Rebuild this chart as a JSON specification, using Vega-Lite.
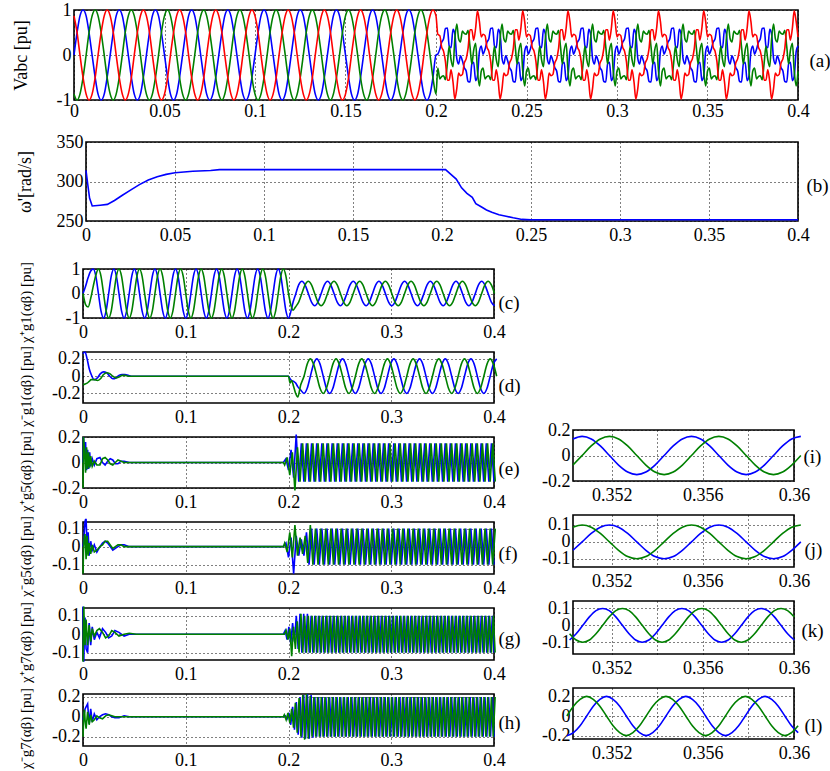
{
"$schema":"https://vega.github.io/schema/vega-lite/v6.json",
"padding":{"left":11,"top":0,"right":40,"bottom":10},
"config":{
"font":"Liberation Serif, serif",
"view":{"stroke":"black","strokeWidth":1.6},
"axis":{"labelFont":"Liberation Serif, serif","labelFontSize":18,"labelColor":"black","titleFont":"Liberation Serif, serif","titleFontSize":18,"titleFontWeight":"normal","titleColor":"black","domain":false,"ticks":false,"tickSize":0,"grid":true,"gridColor":"black","gridDash":[1,3],"gridOpacity":1,"gridWidth":1,"labelFlush":false,"labelOverlap":false,"labelBound":false},
"axisX":{"labelPadding":5,"labelDx":6},
"axisY":{"labelPadding":3},
"line":{"strokeWidth":1.6,"clip":true,"invalid":"filter"}
},
"datasets":{
"a":[
{"t":0,"b":0,"g":-0.87,"r":0.87},{"t":0.0017,"b":0.5,"g":-1,"r":0.5},{"t":0.0033,"b":0.87,"g":-0.87,"r":0},{"t":0.005,"b":1,"g":-0.5,"r":-0.5},{"t":0.0067,"b":0.87,"g":0,"r":-0.87},{"t":0.0083,"b":0.5,"g":0.5,"r":-1},{"t":0.01,"b":0,"g":0.87,"r":-0.87},{"t":0.0117,"b":-0.5,"g":1,"r":-0.5},{"t":0.0133,"b":-0.87,"g":0.87,"r":0},{"t":0.015,"b":-1,"g":0.5,"r":0.5},{"t":0.0167,"b":-0.87,"g":0,"r":0.87},{"t":0.0183,"b":-0.5,"g":-0.5,"r":1},
{"t":0.02,"b":0,"g":-0.87,"r":0.87},{"t":0.0217,"b":0.5,"g":-1,"r":0.5},{"t":0.0233,"b":0.87,"g":-0.87,"r":0},{"t":0.025,"b":1,"g":-0.5,"r":-0.5},{"t":0.0267,"b":0.87,"g":0,"r":-0.87},{"t":0.0283,"b":0.5,"g":0.5,"r":-1},{"t":0.03,"b":0,"g":0.87,"r":-0.87},{"t":0.0317,"b":-0.5,"g":1,"r":-0.5},{"t":0.0333,"b":-0.87,"g":0.87,"r":0},{"t":0.035,"b":-1,"g":0.5,"r":0.5},{"t":0.0367,"b":-0.87,"g":0,"r":0.87},{"t":0.0383,"b":-0.5,"g":-0.5,"r":1},
{"t":0.04,"b":0,"g":-0.87,"r":0.87},{"t":0.0417,"b":0.5,"g":-1,"r":0.5},{"t":0.0433,"b":0.87,"g":-0.87,"r":0},{"t":0.045,"b":1,"g":-0.5,"r":-0.5},{"t":0.0467,"b":0.87,"g":0,"r":-0.87},{"t":0.0483,"b":0.5,"g":0.5,"r":-1},{"t":0.05,"b":0,"g":0.87,"r":-0.87},{"t":0.0517,"b":-0.5,"g":1,"r":-0.5},{"t":0.0533,"b":-0.87,"g":0.87,"r":0},{"t":0.055,"b":-1,"g":0.5,"r":0.5},{"t":0.0567,"b":-0.87,"g":0,"r":0.87},{"t":0.0583,"b":-0.5,"g":-0.5,"r":1},
{"t":0.06,"b":0,"g":-0.87,"r":0.87},{"t":0.0617,"b":0.5,"g":-1,"r":0.5},{"t":0.0633,"b":0.87,"g":-0.87,"r":0},{"t":0.065,"b":1,"g":-0.5,"r":-0.5},{"t":0.0667,"b":0.87,"g":0,"r":-0.87},{"t":0.0683,"b":0.5,"g":0.5,"r":-1},{"t":0.07,"b":0,"g":0.87,"r":-0.87},{"t":0.0717,"b":-0.5,"g":1,"r":-0.5},{"t":0.0733,"b":-0.87,"g":0.87,"r":0},{"t":0.075,"b":-1,"g":0.5,"r":0.5},{"t":0.0767,"b":-0.87,"g":0,"r":0.87},{"t":0.0783,"b":-0.5,"g":-0.5,"r":1},
{"t":0.08,"b":0,"g":-0.87,"r":0.87},{"t":0.0817,"b":0.5,"g":-1,"r":0.5},{"t":0.0833,"b":0.87,"g":-0.87,"r":0},{"t":0.085,"b":1,"g":-0.5,"r":-0.5},{"t":0.0867,"b":0.87,"g":0,"r":-0.87},{"t":0.0883,"b":0.5,"g":0.5,"r":-1},{"t":0.09,"b":0,"g":0.87,"r":-0.87},{"t":0.0917,"b":-0.5,"g":1,"r":-0.5},{"t":0.0933,"b":-0.87,"g":0.87,"r":0},{"t":0.095,"b":-1,"g":0.5,"r":0.5},{"t":0.0967,"b":-0.87,"g":0,"r":0.87},{"t":0.0983,"b":-0.5,"g":-0.5,"r":1},
{"t":0.1,"b":0,"g":-0.87,"r":0.87},{"t":0.1017,"b":0.5,"g":-1,"r":0.5},{"t":0.1033,"b":0.87,"g":-0.87,"r":0},{"t":0.105,"b":1,"g":-0.5,"r":-0.5},{"t":0.1067,"b":0.87,"g":0,"r":-0.87},{"t":0.1083,"b":0.5,"g":0.5,"r":-1},{"t":0.11,"b":0,"g":0.87,"r":-0.87},{"t":0.1117,"b":-0.5,"g":1,"r":-0.5},{"t":0.1133,"b":-0.87,"g":0.87,"r":0},{"t":0.115,"b":-1,"g":0.5,"r":0.5},{"t":0.1167,"b":-0.87,"g":0,"r":0.87},{"t":0.1183,"b":-0.5,"g":-0.5,"r":1},
{"t":0.12,"b":0,"g":-0.87,"r":0.87},{"t":0.1217,"b":0.5,"g":-1,"r":0.5},{"t":0.1233,"b":0.87,"g":-0.87,"r":0},{"t":0.125,"b":1,"g":-0.5,"r":-0.5},{"t":0.1267,"b":0.87,"g":0,"r":-0.87},{"t":0.1283,"b":0.5,"g":0.5,"r":-1},{"t":0.13,"b":0,"g":0.87,"r":-0.87},{"t":0.1317,"b":-0.5,"g":1,"r":-0.5},{"t":0.1333,"b":-0.87,"g":0.87,"r":0},{"t":0.135,"b":-1,"g":0.5,"r":0.5},{"t":0.1367,"b":-0.87,"g":0,"r":0.87},{"t":0.1383,"b":-0.5,"g":-0.5,"r":1},
{"t":0.14,"b":0,"g":-0.87,"r":0.87},{"t":0.1417,"b":0.5,"g":-1,"r":0.5},{"t":0.1433,"b":0.87,"g":-0.87,"r":0},{"t":0.145,"b":1,"g":-0.5,"r":-0.5},{"t":0.1467,"b":0.87,"g":0,"r":-0.87},{"t":0.1483,"b":0.5,"g":0.5,"r":-1},{"t":0.15,"b":0,"g":0.87,"r":-0.87},{"t":0.1517,"b":-0.5,"g":1,"r":-0.5},{"t":0.1533,"b":-0.87,"g":0.87,"r":0},{"t":0.155,"b":-1,"g":0.5,"r":0.5},{"t":0.1567,"b":-0.87,"g":0,"r":0.87},{"t":0.1583,"b":-0.5,"g":-0.5,"r":1},
{"t":0.16,"b":0,"g":-0.87,"r":0.87},{"t":0.1617,"b":0.5,"g":-1,"r":0.5},{"t":0.1633,"b":0.87,"g":-0.87,"r":0},{"t":0.165,"b":1,"g":-0.5,"r":-0.5},{"t":0.1667,"b":0.87,"g":0,"r":-0.87},{"t":0.1683,"b":0.5,"g":0.5,"r":-1},{"t":0.17,"b":0,"g":0.87,"r":-0.87},{"t":0.1717,"b":-0.5,"g":1,"r":-0.5},{"t":0.1733,"b":-0.87,"g":0.87,"r":0},{"t":0.175,"b":-1,"g":0.5,"r":0.5},{"t":0.1767,"b":-0.87,"g":0,"r":0.87},{"t":0.1783,"b":-0.5,"g":-0.5,"r":1},
{"t":0.18,"b":0,"g":-0.87,"r":0.87},{"t":0.1817,"b":0.5,"g":-1,"r":0.5},{"t":0.1833,"b":0.87,"g":-0.87,"r":0},{"t":0.185,"b":1,"g":-0.5,"r":-0.5},{"t":0.1867,"b":0.87,"g":0,"r":-0.87},{"t":0.1883,"b":0.5,"g":0.5,"r":-1},{"t":0.19,"b":0,"g":0.87,"r":-0.87},{"t":0.1917,"b":-0.5,"g":1,"r":-0.5},{"t":0.1933,"b":-0.87,"g":0.87,"r":0},{"t":0.195,"b":-1,"g":0.5,"r":0.5},{"t":0.1967,"b":-0.87,"g":0,"r":0.87},{"t":0.1983,"b":-0.5,"g":-0.5,"r":1},
{"t":0.2,"b":0,"g":-0.87,"r":0.87},
{"t":0.201,"b":0.02,"g":-0.29,"r":0.46},{"t":0.2021,"b":0.13,"g":-0.53,"r":0.43},{"t":0.2031,"b":0.28,"g":-0.48,"r":0.18},{"t":0.2042,"b":0.36,"g":-0.46,"r":0.08},{"t":0.2052,"b":0.59,"g":-0.55,"r":-0.14},{"t":0.2063,"b":0.6,"g":-0.18,"r":-0.56},{"t":0.2073,"b":0.2,"g":0.2,"r":-0.56},{"t":0.2083,"b":0.16,"g":-0.1,"r":-0.33},{"t":0.2094,"b":0.57,"g":-0.26,"r":-0.6},{"t":0.2104,"b":0.47,"g":0.35,"r":-0.98},{"t":0.2115,"b":-0.08,"g":0.69,"r":-0.74},{"t":0.2125,"b":-0.2,"g":0.36,"r":-0.4},{"t":0.2135,"b":-0.02,"g":0.29,"r":-0.46},{"t":0.2146,"b":-0.13,"g":0.53,"r":-0.43},{"t":0.2156,"b":-0.28,"g":0.48,"r":-0.18},{"t":0.2167,"b":-0.36,"g":0.46,"r":-0.08},{"t":0.2177,"b":-0.59,"g":0.55,"r":0.14},{"t":0.2188,"b":-0.6,"g":0.18,"r":0.56},{"t":0.2198,"b":-0.2,"g":-0.2,"r":0.56},{"t":0.2208,"b":-0.16,"g":0.1,"r":0.33},{"t":0.2219,"b":-0.57,"g":0.26,"r":0.6},{"t":0.2229,"b":-0.47,"g":-0.35,"r":0.98},{"t":0.224,"b":0.08,"g":-0.69,"r":0.74},
{"t":0.225,"b":0.2,"g":-0.36,"r":0.4},{"t":0.226,"b":0.02,"g":-0.29,"r":0.46},{"t":0.2271,"b":0.13,"g":-0.53,"r":0.43},{"t":0.2281,"b":0.28,"g":-0.48,"r":0.18},{"t":0.2292,"b":0.36,"g":-0.46,"r":0.08},{"t":0.2302,"b":0.59,"g":-0.55,"r":-0.14},{"t":0.2313,"b":0.6,"g":-0.18,"r":-0.56},{"t":0.2323,"b":0.2,"g":0.2,"r":-0.56},{"t":0.2333,"b":0.16,"g":-0.1,"r":-0.33},{"t":0.2344,"b":0.57,"g":-0.26,"r":-0.6},{"t":0.2354,"b":0.47,"g":0.35,"r":-0.98},{"t":0.2365,"b":-0.08,"g":0.69,"r":-0.74},{"t":0.2375,"b":-0.2,"g":0.36,"r":-0.4},{"t":0.2385,"b":-0.02,"g":0.29,"r":-0.46},{"t":0.2396,"b":-0.13,"g":0.53,"r":-0.43},{"t":0.2406,"b":-0.28,"g":0.48,"r":-0.18},{"t":0.2417,"b":-0.36,"g":0.46,"r":-0.08},{"t":0.2427,"b":-0.59,"g":0.55,"r":0.14},{"t":0.2438,"b":-0.6,"g":0.18,"r":0.56},{"t":0.2448,"b":-0.2,"g":-0.2,"r":0.56},{"t":0.2458,"b":-0.16,"g":0.1,"r":0.33},{"t":0.2469,"b":-0.57,"g":0.26,"r":0.6},{"t":0.2479,"b":-0.47,"g":-0.35,"r":0.98},{"t":0.249,"b":0.08,"g":-0.69,"r":0.74},
{"t":0.25,"b":0.2,"g":-0.36,"r":0.4},{"t":0.251,"b":0.02,"g":-0.29,"r":0.46},{"t":0.2521,"b":0.13,"g":-0.53,"r":0.43},{"t":0.2531,"b":0.28,"g":-0.48,"r":0.18},{"t":0.2542,"b":0.36,"g":-0.46,"r":0.08},{"t":0.2552,"b":0.59,"g":-0.55,"r":-0.14},{"t":0.2563,"b":0.6,"g":-0.18,"r":-0.56},{"t":0.2573,"b":0.2,"g":0.2,"r":-0.56},{"t":0.2583,"b":0.16,"g":-0.1,"r":-0.33},{"t":0.2594,"b":0.57,"g":-0.26,"r":-0.6},{"t":0.2604,"b":0.47,"g":0.35,"r":-0.98},{"t":0.2615,"b":-0.08,"g":0.69,"r":-0.74},{"t":0.2625,"b":-0.2,"g":0.36,"r":-0.4},{"t":0.2635,"b":-0.02,"g":0.29,"r":-0.46},{"t":0.2646,"b":-0.13,"g":0.53,"r":-0.43},{"t":0.2656,"b":-0.28,"g":0.48,"r":-0.18},{"t":0.2667,"b":-0.36,"g":0.46,"r":-0.08},{"t":0.2677,"b":-0.59,"g":0.55,"r":0.14},{"t":0.2688,"b":-0.6,"g":0.18,"r":0.56},{"t":0.2698,"b":-0.2,"g":-0.2,"r":0.56},{"t":0.2708,"b":-0.16,"g":0.1,"r":0.33},{"t":0.2719,"b":-0.57,"g":0.26,"r":0.6},{"t":0.2729,"b":-0.47,"g":-0.35,"r":0.98},{"t":0.274,"b":0.08,"g":-0.69,"r":0.74},
{"t":0.275,"b":0.2,"g":-0.36,"r":0.4},{"t":0.276,"b":0.02,"g":-0.29,"r":0.46},{"t":0.2771,"b":0.13,"g":-0.53,"r":0.43},{"t":0.2781,"b":0.28,"g":-0.48,"r":0.18},{"t":0.2792,"b":0.36,"g":-0.46,"r":0.08},{"t":0.2802,"b":0.59,"g":-0.55,"r":-0.14},{"t":0.2813,"b":0.6,"g":-0.18,"r":-0.56},{"t":0.2823,"b":0.2,"g":0.2,"r":-0.56},{"t":0.2833,"b":0.16,"g":-0.1,"r":-0.33},{"t":0.2844,"b":0.57,"g":-0.26,"r":-0.6},{"t":0.2854,"b":0.47,"g":0.35,"r":-0.98},{"t":0.2865,"b":-0.08,"g":0.69,"r":-0.74},{"t":0.2875,"b":-0.2,"g":0.36,"r":-0.4},{"t":0.2885,"b":-0.02,"g":0.29,"r":-0.46},{"t":0.2896,"b":-0.13,"g":0.53,"r":-0.43},{"t":0.2906,"b":-0.28,"g":0.48,"r":-0.18},{"t":0.2917,"b":-0.36,"g":0.46,"r":-0.08},{"t":0.2927,"b":-0.59,"g":0.55,"r":0.14},{"t":0.2938,"b":-0.6,"g":0.18,"r":0.56},{"t":0.2948,"b":-0.2,"g":-0.2,"r":0.56},{"t":0.2958,"b":-0.16,"g":0.1,"r":0.33},{"t":0.2969,"b":-0.57,"g":0.26,"r":0.6},{"t":0.2979,"b":-0.47,"g":-0.35,"r":0.98},{"t":0.299,"b":0.08,"g":-0.69,"r":0.74},
{"t":0.3,"b":0.2,"g":-0.36,"r":0.4},{"t":0.301,"b":0.02,"g":-0.29,"r":0.46},{"t":0.3021,"b":0.13,"g":-0.53,"r":0.43},{"t":0.3031,"b":0.28,"g":-0.48,"r":0.18},{"t":0.3042,"b":0.36,"g":-0.46,"r":0.08},{"t":0.3052,"b":0.59,"g":-0.55,"r":-0.14},{"t":0.3063,"b":0.6,"g":-0.18,"r":-0.56},{"t":0.3073,"b":0.2,"g":0.2,"r":-0.56},{"t":0.3083,"b":0.16,"g":-0.1,"r":-0.33},{"t":0.3094,"b":0.57,"g":-0.26,"r":-0.6},{"t":0.3104,"b":0.47,"g":0.35,"r":-0.98},{"t":0.3115,"b":-0.08,"g":0.69,"r":-0.74},{"t":0.3125,"b":-0.2,"g":0.36,"r":-0.4},{"t":0.3135,"b":-0.02,"g":0.29,"r":-0.46},{"t":0.3146,"b":-0.13,"g":0.53,"r":-0.43},{"t":0.3156,"b":-0.28,"g":0.48,"r":-0.18},{"t":0.3167,"b":-0.36,"g":0.46,"r":-0.08},{"t":0.3177,"b":-0.59,"g":0.55,"r":0.14},{"t":0.3188,"b":-0.6,"g":0.18,"r":0.56},{"t":0.3198,"b":-0.2,"g":-0.2,"r":0.56},{"t":0.3208,"b":-0.16,"g":0.1,"r":0.33},{"t":0.3219,"b":-0.57,"g":0.26,"r":0.6},{"t":0.3229,"b":-0.47,"g":-0.35,"r":0.98},{"t":0.324,"b":0.08,"g":-0.69,"r":0.74},
{"t":0.325,"b":0.2,"g":-0.36,"r":0.4},{"t":0.326,"b":0.02,"g":-0.29,"r":0.46},{"t":0.3271,"b":0.13,"g":-0.53,"r":0.43},{"t":0.3281,"b":0.28,"g":-0.48,"r":0.18},{"t":0.3292,"b":0.36,"g":-0.46,"r":0.08},{"t":0.3302,"b":0.59,"g":-0.55,"r":-0.14},{"t":0.3313,"b":0.6,"g":-0.18,"r":-0.56},{"t":0.3323,"b":0.2,"g":0.2,"r":-0.56},{"t":0.3333,"b":0.16,"g":-0.1,"r":-0.33},{"t":0.3344,"b":0.57,"g":-0.26,"r":-0.6},{"t":0.3354,"b":0.47,"g":0.35,"r":-0.98},{"t":0.3365,"b":-0.08,"g":0.69,"r":-0.74},{"t":0.3375,"b":-0.2,"g":0.36,"r":-0.4},{"t":0.3385,"b":-0.02,"g":0.29,"r":-0.46},{"t":0.3396,"b":-0.13,"g":0.53,"r":-0.43},{"t":0.3406,"b":-0.28,"g":0.48,"r":-0.18},{"t":0.3417,"b":-0.36,"g":0.46,"r":-0.08},{"t":0.3427,"b":-0.59,"g":0.55,"r":0.14},{"t":0.3438,"b":-0.6,"g":0.18,"r":0.56},{"t":0.3448,"b":-0.2,"g":-0.2,"r":0.56},{"t":0.3458,"b":-0.16,"g":0.1,"r":0.33},{"t":0.3469,"b":-0.57,"g":0.26,"r":0.6},{"t":0.3479,"b":-0.47,"g":-0.35,"r":0.98},{"t":0.349,"b":0.08,"g":-0.69,"r":0.74},
{"t":0.35,"b":0.2,"g":-0.36,"r":0.4},{"t":0.351,"b":0.02,"g":-0.29,"r":0.46},{"t":0.3521,"b":0.13,"g":-0.53,"r":0.43},{"t":0.3531,"b":0.28,"g":-0.48,"r":0.18},{"t":0.3542,"b":0.36,"g":-0.46,"r":0.08},{"t":0.3552,"b":0.59,"g":-0.55,"r":-0.14},{"t":0.3563,"b":0.6,"g":-0.18,"r":-0.56},{"t":0.3573,"b":0.2,"g":0.2,"r":-0.56},{"t":0.3583,"b":0.16,"g":-0.1,"r":-0.33},{"t":0.3594,"b":0.57,"g":-0.26,"r":-0.6},{"t":0.3604,"b":0.47,"g":0.35,"r":-0.98},{"t":0.3615,"b":-0.08,"g":0.69,"r":-0.74},{"t":0.3625,"b":-0.2,"g":0.36,"r":-0.4},{"t":0.3635,"b":-0.02,"g":0.29,"r":-0.46},{"t":0.3646,"b":-0.13,"g":0.53,"r":-0.43},{"t":0.3656,"b":-0.28,"g":0.48,"r":-0.18},{"t":0.3667,"b":-0.36,"g":0.46,"r":-0.08},{"t":0.3677,"b":-0.59,"g":0.55,"r":0.14},{"t":0.3688,"b":-0.6,"g":0.18,"r":0.56},{"t":0.3698,"b":-0.2,"g":-0.2,"r":0.56},{"t":0.3708,"b":-0.16,"g":0.1,"r":0.33},{"t":0.3719,"b":-0.57,"g":0.26,"r":0.6},{"t":0.3729,"b":-0.47,"g":-0.35,"r":0.98},{"t":0.374,"b":0.08,"g":-0.69,"r":0.74},
{"t":0.375,"b":0.2,"g":-0.36,"r":0.4},{"t":0.376,"b":0.02,"g":-0.29,"r":0.46},{"t":0.3771,"b":0.13,"g":-0.53,"r":0.43},{"t":0.3781,"b":0.28,"g":-0.48,"r":0.18},{"t":0.3792,"b":0.36,"g":-0.46,"r":0.08},{"t":0.3802,"b":0.59,"g":-0.55,"r":-0.14},{"t":0.3813,"b":0.6,"g":-0.18,"r":-0.56},{"t":0.3823,"b":0.2,"g":0.2,"r":-0.56},{"t":0.3833,"b":0.16,"g":-0.1,"r":-0.33},{"t":0.3844,"b":0.57,"g":-0.26,"r":-0.6},{"t":0.3854,"b":0.47,"g":0.35,"r":-0.98},{"t":0.3865,"b":-0.08,"g":0.69,"r":-0.74},{"t":0.3875,"b":-0.2,"g":0.36,"r":-0.4},{"t":0.3885,"b":-0.02,"g":0.29,"r":-0.46},{"t":0.3896,"b":-0.13,"g":0.53,"r":-0.43},{"t":0.3906,"b":-0.28,"g":0.48,"r":-0.18},{"t":0.3917,"b":-0.36,"g":0.46,"r":-0.08},{"t":0.3927,"b":-0.59,"g":0.55,"r":0.14},{"t":0.3938,"b":-0.6,"g":0.18,"r":0.56},{"t":0.3948,"b":-0.2,"g":-0.2,"r":0.56},{"t":0.3958,"b":-0.16,"g":0.1,"r":0.33},{"t":0.3969,"b":-0.57,"g":0.26,"r":0.6},{"t":0.3979,"b":-0.47,"g":-0.35,"r":0.98},{"t":0.399,"b":0.08,"g":-0.69,"r":0.74},
{"t":0.4,"b":0.2,"g":-0.36,"r":0.4}
],
"w":[
{"t":0,"w":314},{"t":0.001,"w":296},{"t":0.002,"w":279},{"t":0.0035,"w":269},{"t":0.008,"w":270},{"t":0.012,"w":271},{"t":0.016,"w":276},{"t":0.02,"w":282},{"t":0.025,"w":289},{"t":0.03,"w":296},{"t":0.035,"w":302},{"t":0.04,"w":306},{"t":0.045,"w":309},{"t":0.05,"w":311},{"t":0.06,"w":313},{"t":0.07,"w":314},{"t":0.075,"w":315},{"t":0.2,"w":315},{"t":0.202,"w":315},{"t":0.205,"w":309},{"t":0.208,"w":303},{"t":0.211,"w":292},{"t":0.214,"w":285},{"t":0.217,"w":280},{"t":0.219,"w":272},{"t":0.222,"w":268},{"t":0.225,"w":264},{"t":0.228,"w":261},{"t":0.232,"w":258},{"t":0.236,"w":256},{"t":0.24,"w":254},{"t":0.245,"w":252},{"t":0.25,"w":251.5},{"t":0.4,"w":251.5}
],
"c":[
{"t":0,"b":0,"g":0},{"t":0.0025,"b":0.3,"g":-0.45},{"t":0.005,"b":0.65,"g":-0.55},{"t":0.0075,"b":0.92,"g":-0.2},{"t":0.01,"b":1,"g":0.3},{"t":0.0125,"b":0.71,"g":0.75},{"t":0.015,"b":0,"g":1},{"t":0.0175,"b":-0.71,"g":0.71},
{"t":0.02,"b":-1,"g":0},{"t":0.0225,"b":-0.71,"g":-0.71},{"t":0.025,"b":0,"g":-1},{"t":0.0275,"b":0.71,"g":-0.71},{"t":0.03,"b":1,"g":0},{"t":0.0325,"b":0.71,"g":0.71},{"t":0.035,"b":0,"g":1},{"t":0.0375,"b":-0.71,"g":0.71},
{"t":0.04,"b":-1,"g":0},{"t":0.0425,"b":-0.71,"g":-0.71},{"t":0.045,"b":0,"g":-1},{"t":0.0475,"b":0.71,"g":-0.71},{"t":0.05,"b":1,"g":0},{"t":0.0525,"b":0.71,"g":0.71},{"t":0.055,"b":0,"g":1},{"t":0.0575,"b":-0.71,"g":0.71},
{"t":0.06,"b":-1,"g":0},{"t":0.0625,"b":-0.71,"g":-0.71},{"t":0.065,"b":0,"g":-1},{"t":0.0675,"b":0.71,"g":-0.71},{"t":0.07,"b":1,"g":0},{"t":0.0725,"b":0.71,"g":0.71},{"t":0.075,"b":0,"g":1},{"t":0.0775,"b":-0.71,"g":0.71},
{"t":0.08,"b":-1,"g":0},{"t":0.0825,"b":-0.71,"g":-0.71},{"t":0.085,"b":0,"g":-1},{"t":0.0875,"b":0.71,"g":-0.71},{"t":0.09,"b":1,"g":0},{"t":0.0925,"b":0.71,"g":0.71},{"t":0.095,"b":0,"g":1},{"t":0.0975,"b":-0.71,"g":0.71},
{"t":0.1,"b":-1,"g":0},{"t":0.1025,"b":-0.71,"g":-0.71},{"t":0.105,"b":0,"g":-1},{"t":0.1075,"b":0.71,"g":-0.71},{"t":0.11,"b":1,"g":0},{"t":0.1125,"b":0.71,"g":0.71},{"t":0.115,"b":0,"g":1},{"t":0.1175,"b":-0.71,"g":0.71},
{"t":0.12,"b":-1,"g":0},{"t":0.1225,"b":-0.71,"g":-0.71},{"t":0.125,"b":0,"g":-1},{"t":0.1275,"b":0.71,"g":-0.71},{"t":0.13,"b":1,"g":0},{"t":0.1325,"b":0.71,"g":0.71},{"t":0.135,"b":0,"g":1},{"t":0.1375,"b":-0.71,"g":0.71},
{"t":0.14,"b":-1,"g":0},{"t":0.1425,"b":-0.71,"g":-0.71},{"t":0.145,"b":0,"g":-1},{"t":0.1475,"b":0.71,"g":-0.71},{"t":0.15,"b":1,"g":0},{"t":0.1525,"b":0.71,"g":0.71},{"t":0.155,"b":0,"g":1},{"t":0.1575,"b":-0.71,"g":0.71},
{"t":0.16,"b":-1,"g":0},{"t":0.1625,"b":-0.71,"g":-0.71},{"t":0.165,"b":0,"g":-1},{"t":0.1675,"b":0.71,"g":-0.71},{"t":0.17,"b":1,"g":0},{"t":0.1725,"b":0.71,"g":0.71},{"t":0.175,"b":0,"g":1},{"t":0.1775,"b":-0.71,"g":0.71},
{"t":0.18,"b":-1,"g":0},{"t":0.1825,"b":-0.71,"g":-0.71},{"t":0.185,"b":0,"g":-1},{"t":0.1875,"b":0.71,"g":-0.71},{"t":0.19,"b":1,"g":0},{"t":0.1925,"b":0.71,"g":0.71},{"t":0.195,"b":0,"g":1},{"t":0.1975,"b":-0.71,"g":0.71},
{"t":0.2,"b":-1,"g":0},{"t":0.2025,"b":-0.7,"g":-0.5},{"t":0.2045,"b":-0.35,"g":-0.68},{"t":0.2068,"b":-0.05,"g":-0.55},{"t":0.2099,"b":0.35,"g":-0.35},
{"t":0.213,"b":0.5,"g":0},{"t":0.2161,"b":0.35,"g":0.35},{"t":0.2193,"b":0,"g":0.5},{"t":0.2224,"b":-0.35,"g":0.35},{"t":0.2255,"b":-0.5,"g":0},{"t":0.2286,"b":-0.35,"g":-0.35},{"t":0.2318,"b":0,"g":-0.5},{"t":0.2349,"b":0.35,"g":-0.35},
{"t":0.238,"b":0.5,"g":0},{"t":0.2411,"b":0.35,"g":0.35},{"t":0.2443,"b":0,"g":0.5},{"t":0.2474,"b":-0.35,"g":0.35},{"t":0.2505,"b":-0.5,"g":0},{"t":0.2536,"b":-0.35,"g":-0.35},{"t":0.2568,"b":0,"g":-0.5},{"t":0.2599,"b":0.35,"g":-0.35},
{"t":0.263,"b":0.5,"g":0},{"t":0.2661,"b":0.35,"g":0.35},{"t":0.2693,"b":0,"g":0.5},{"t":0.2724,"b":-0.35,"g":0.35},{"t":0.2755,"b":-0.5,"g":0},{"t":0.2786,"b":-0.35,"g":-0.35},{"t":0.2818,"b":0,"g":-0.5},{"t":0.2849,"b":0.35,"g":-0.35},
{"t":0.288,"b":0.5,"g":0},{"t":0.2911,"b":0.35,"g":0.35},{"t":0.2943,"b":0,"g":0.5},{"t":0.2974,"b":-0.35,"g":0.35},{"t":0.3005,"b":-0.5,"g":0},{"t":0.3036,"b":-0.35,"g":-0.35},{"t":0.3068,"b":0,"g":-0.5},{"t":0.3099,"b":0.35,"g":-0.35},
{"t":0.313,"b":0.5,"g":0},{"t":0.3161,"b":0.35,"g":0.35},{"t":0.3193,"b":0,"g":0.5},{"t":0.3224,"b":-0.35,"g":0.35},{"t":0.3255,"b":-0.5,"g":0},{"t":0.3286,"b":-0.35,"g":-0.35},{"t":0.3318,"b":0,"g":-0.5},{"t":0.3349,"b":0.35,"g":-0.35},
{"t":0.338,"b":0.5,"g":0},{"t":0.3411,"b":0.35,"g":0.35},{"t":0.3443,"b":0,"g":0.5},{"t":0.3474,"b":-0.35,"g":0.35},{"t":0.3505,"b":-0.5,"g":0},{"t":0.3536,"b":-0.35,"g":-0.35},{"t":0.3568,"b":0,"g":-0.5},{"t":0.3599,"b":0.35,"g":-0.35},
{"t":0.363,"b":0.5,"g":0},{"t":0.3661,"b":0.35,"g":0.35},{"t":0.3693,"b":0,"g":0.5},{"t":0.3724,"b":-0.35,"g":0.35},{"t":0.3755,"b":-0.5,"g":0},{"t":0.3786,"b":-0.35,"g":-0.35},{"t":0.3818,"b":0,"g":-0.5},{"t":0.3849,"b":0.35,"g":-0.35},
{"t":0.388,"b":0.5,"g":0},{"t":0.3911,"b":0.35,"g":0.35},{"t":0.3943,"b":0,"g":0.5},{"t":0.3974,"b":-0.35,"g":0.35},{"t":0.4005,"b":-0.5,"g":0}
],
"d":[
{"t":0,"b":0.26,"g":-0.1},{"t":0.002,"b":0.28,"g":-0.09},{"t":0.004,"b":0.2,"g":-0.08},{"t":0.006,"b":0.09,"g":-0.06},{"t":0.008,"b":0.02,"g":-0.04},{"t":0.011,"b":-0.04,"g":-0.04},{"t":0.014,"b":-0.02,"g":-0.05},{"t":0.017,"b":0.03,"g":-0.03},{"t":0.02,"b":0.05,"g":0.02},{"t":0.023,"b":0.04,"g":0.04},{"t":0.026,"b":0,"g":0.03},{"t":0.029,"b":-0.03,"g":0},{"t":0.032,"b":-0.02,"g":-0.02},{"t":0.035,"b":0.01,"g":-0.01},{"t":0.038,"b":0.02,"g":0.01},{"t":0.041,"b":0.02,"g":0.01},{"t":0.044,"b":0.01,"g":0},{"t":0.047,"b":0,"g":0},{"t":0.2,"b":0,"g":0},
{"t":0.2015,"b":-0.03,"g":-0.08},{"t":0.203,"b":-0.05,"g":-0.05},{"t":0.205,"b":-0.06,"g":-0.12},{"t":0.207,"b":-0.08,"g":-0.2},{"t":0.209,"b":-0.12,"g":-0.24},{"t":0.2119,"b":-0.16,"g":-0.1},{"t":0.2151,"b":-0.2,"g":0},{"t":0.2182,"b":-0.14,"g":0.14},
{"t":0.2213,"b":0,"g":0.2},{"t":0.2244,"b":0.14,"g":0.14},{"t":0.2276,"b":0.2,"g":0},{"t":0.2307,"b":0.14,"g":-0.14},{"t":0.2338,"b":0,"g":-0.2},{"t":0.2369,"b":-0.14,"g":-0.14},{"t":0.2401,"b":-0.2,"g":0},{"t":0.2432,"b":-0.14,"g":0.14},
{"t":0.2463,"b":0,"g":0.2},{"t":0.2494,"b":0.14,"g":0.14},{"t":0.2526,"b":0.2,"g":0},{"t":0.2557,"b":0.14,"g":-0.14},{"t":0.2588,"b":0,"g":-0.2},{"t":0.2619,"b":-0.14,"g":-0.14},{"t":0.2651,"b":-0.2,"g":0},{"t":0.2682,"b":-0.14,"g":0.14},
{"t":0.2713,"b":0,"g":0.2},{"t":0.2744,"b":0.14,"g":0.14},{"t":0.2776,"b":0.2,"g":0},{"t":0.2807,"b":0.14,"g":-0.14},{"t":0.2838,"b":0,"g":-0.2},{"t":0.2869,"b":-0.14,"g":-0.14},{"t":0.2901,"b":-0.2,"g":0},{"t":0.2932,"b":-0.14,"g":0.14},
{"t":0.2963,"b":0,"g":0.2},{"t":0.2994,"b":0.14,"g":0.14},{"t":0.3026,"b":0.2,"g":0},{"t":0.3057,"b":0.14,"g":-0.14},{"t":0.3088,"b":0,"g":-0.2},{"t":0.3119,"b":-0.14,"g":-0.14},{"t":0.3151,"b":-0.2,"g":0},{"t":0.3182,"b":-0.14,"g":0.14},
{"t":0.3213,"b":0,"g":0.2},{"t":0.3244,"b":0.14,"g":0.14},{"t":0.3276,"b":0.2,"g":0},{"t":0.3307,"b":0.14,"g":-0.14},{"t":0.3338,"b":0,"g":-0.2},{"t":0.3369,"b":-0.14,"g":-0.14},{"t":0.3401,"b":-0.2,"g":0},{"t":0.3432,"b":-0.14,"g":0.14},
{"t":0.3463,"b":0,"g":0.2},{"t":0.3494,"b":0.14,"g":0.14},{"t":0.3526,"b":0.2,"g":0},{"t":0.3557,"b":0.14,"g":-0.14},{"t":0.3588,"b":0,"g":-0.2},{"t":0.3619,"b":-0.14,"g":-0.14},{"t":0.3651,"b":-0.2,"g":0},{"t":0.3682,"b":-0.14,"g":0.14},
{"t":0.3713,"b":0,"g":0.2},{"t":0.3744,"b":0.14,"g":0.14},{"t":0.3776,"b":0.2,"g":0},{"t":0.3807,"b":0.14,"g":-0.14},{"t":0.3838,"b":0,"g":-0.2},{"t":0.3869,"b":-0.14,"g":-0.14},{"t":0.3901,"b":-0.2,"g":0},{"t":0.3932,"b":-0.14,"g":0.14},
{"t":0.3963,"b":0,"g":0.2},{"t":0.3994,"b":0.14,"g":0.14},{"t":0.4026,"b":0.2,"g":0}
],
"ef":[
{"t":0,"eb":0,"eg":-0.2,"fb":0,"fg":-0.15},{"t":0.0005,"eb":0.2,"eg":0.2,"fb":0.02,"fg":-0.02},{"t":0.001,"eb":0.12,"eg":0.15,"fb":0.04,"fg":0.03},{"t":0.0015,"eb":0.05,"eg":0.1,"fb":0.1,"fg":0.06},{"t":0.002,"eb":0.1,"eg":0,"fb":0.14,"fg":0.07},{"t":0.0025,"eb":0.16,"eg":-0.08,"fb":0.15,"fg":0},{"t":0.003,"eb":0.05,"eg":0.02,"fb":0.15,"fg":-0.07},{"t":0.0035,"eb":-0.06,"eg":0.12,"fb":0.08,"fg":-0.02},{"t":0.004,"eb":0.02,"eg":0.03,"fb":0.02,"fg":0.06},{"t":0.0045,"eb":0.1,"eg":-0.05,"fb":0.05,"fg":0.01},{"t":0.005,"eb":0.03,"eg":0.02,"fb":0.08,"fg":-0.05},{"t":0.0055,"eb":-0.05,"eg":0.08,"fb":0.02,"fg":-0.02},{"t":0.006,"eb":0.01,"eg":0.02,"fb":-0.05,"fg":0.02},{"t":0.0065,"eb":0.08,"eg":-0.04,"fb":-0.01,"fg":0},{"t":0.0075,"eb":-0.03,"eg":0.05,"fb":0.03,"fg":-0.04},{"t":0.009,"eb":0.03,"eg":-0.03,"fb":-0.02,"fg":0.01},{"t":0.011,"eb":-0.02,"eg":0.01,"fb":0.01,"fg":-0.03},{"t":0.0135,"eb":0.03,"eg":-0.02,"fb":-0.03,"fg":-0.02},{"t":0.0165,"eb":0.04,"eg":-0.02,"fb":0,"fg":0},{"t":0.019,"eb":0,"eg":0.03,"fb":0.02,"fg":0.01},{"t":0.0215,"eb":-0.02,"eg":0.04,"fb":0.03,"fg":0.03},{"t":0.024,"eb":0.01,"eg":0.02,"fb":0.02,"fg":0.03},{"t":0.0265,"eb":0.03,"eg":-0.01,"fb":0,"fg":0.01},{"t":0.029,"eb":0.02,"eg":-0.02,"fb":-0.02,"fg":-0.01},{"t":0.0315,"eb":-0.01,"eg":0,"fb":-0.01,"fg":0},{"t":0.034,"eb":-0.01,"eg":0.02,"fb":0,"fg":0.01},{"t":0.037,"eb":0.01,"eg":0.01,"fb":0.01,"fg":0.01},{"t":0.04,"eb":0.01,"eg":0,"fb":0.01,"fg":0},{"t":0.045,"eb":0,"eg":0,"fb":0,"fg":0},{"t":0.195,"eb":0,"eg":0,"fb":0,"fg":0},
{"t":0.1975,"eb":0.03,"fb":0.02},{"t":0.2,"eb":-0.06,"fb":-0.06},{"t":0.2025,"eb":0.1,"fb":0.05},{"t":0.205,"eb":-0.12,"fb":-0.15},{"t":0.2075,"eb":0.22,"fb":0.06},{"t":0.21,"eb":-0.15,"fb":-0.05},{"t":0.2125,"eb":0.15,"fb":0.04},{"t":0.215,"eb":-0.15,"fb":-0.05},{"t":0.2175,"eb":0.15,"fb":0.08},{"t":0.22,"eb":-0.15,"fb":-0.1},
{"t":0.2225,"eb":0.15,"fb":0.1},{"t":0.225,"eb":-0.15,"fb":-0.1},{"t":0.2275,"eb":0.15,"fb":0.1},{"t":0.23,"eb":-0.15,"fb":-0.1},{"t":0.2325,"eb":0.15,"fb":0.1},{"t":0.235,"eb":-0.15,"fb":-0.1},{"t":0.2375,"eb":0.15,"fb":0.1},{"t":0.24,"eb":-0.15,"fb":-0.1},{"t":0.2425,"eb":0.15,"fb":0.1},{"t":0.245,"eb":-0.15,"fb":-0.1},{"t":0.2475,"eb":0.15,"fb":0.1},{"t":0.25,"eb":-0.15,"fb":-0.1},{"t":0.2525,"eb":0.15,"fb":0.1},{"t":0.255,"eb":-0.15,"fb":-0.1},{"t":0.2575,"eb":0.15,"fb":0.1},{"t":0.26,"eb":-0.15,"fb":-0.1},{"t":0.2625,"eb":0.15,"fb":0.1},{"t":0.265,"eb":-0.15,"fb":-0.1},{"t":0.2675,"eb":0.15,"fb":0.1},{"t":0.27,"eb":-0.15,"fb":-0.1},{"t":0.2725,"eb":0.15,"fb":0.1},{"t":0.275,"eb":-0.15,"fb":-0.1},{"t":0.2775,"eb":0.15,"fb":0.1},{"t":0.28,"eb":-0.15,"fb":-0.1},{"t":0.2825,"eb":0.15,"fb":0.1},{"t":0.285,"eb":-0.15,"fb":-0.1},{"t":0.2875,"eb":0.15,"fb":0.1},{"t":0.29,"eb":-0.15,"fb":-0.1},{"t":0.2925,"eb":0.15,"fb":0.1},{"t":0.295,"eb":-0.15,"fb":-0.1},{"t":0.2975,"eb":0.15,"fb":0.1},{"t":0.3,"eb":-0.15,"fb":-0.1},{"t":0.3025,"eb":0.15,"fb":0.1},{"t":0.305,"eb":-0.15,"fb":-0.1},{"t":0.3075,"eb":0.15,"fb":0.1},{"t":0.31,"eb":-0.15,"fb":-0.1},{"t":0.3125,"eb":0.15,"fb":0.1},{"t":0.315,"eb":-0.15,"fb":-0.1},{"t":0.3175,"eb":0.15,"fb":0.1},{"t":0.32,"eb":-0.15,"fb":-0.1},{"t":0.3225,"eb":0.15,"fb":0.1},{"t":0.325,"eb":-0.15,"fb":-0.1},{"t":0.3275,"eb":0.15,"fb":0.1},{"t":0.33,"eb":-0.15,"fb":-0.1},{"t":0.3325,"eb":0.15,"fb":0.1},{"t":0.335,"eb":-0.15,"fb":-0.1},{"t":0.3375,"eb":0.15,"fb":0.1},{"t":0.34,"eb":-0.15,"fb":-0.1},{"t":0.3425,"eb":0.15,"fb":0.1},{"t":0.345,"eb":-0.15,"fb":-0.1},{"t":0.3475,"eb":0.15,"fb":0.1},{"t":0.35,"eb":-0.15,"fb":-0.1},{"t":0.3525,"eb":0.15,"fb":0.1},{"t":0.355,"eb":-0.15,"fb":-0.1},{"t":0.3575,"eb":0.15,"fb":0.1},{"t":0.36,"eb":-0.15,"fb":-0.1},{"t":0.3625,"eb":0.15,"fb":0.1},{"t":0.365,"eb":-0.15,"fb":-0.1},{"t":0.3675,"eb":0.15,"fb":0.1},{"t":0.37,"eb":-0.15,"fb":-0.1},{"t":0.3725,"eb":0.15,"fb":0.1},{"t":0.375,"eb":-0.15,"fb":-0.1},{"t":0.3775,"eb":0.15,"fb":0.1},{"t":0.38,"eb":-0.15,"fb":-0.1},{"t":0.3825,"eb":0.15,"fb":0.1},{"t":0.385,"eb":-0.15,"fb":-0.1},{"t":0.3875,"eb":0.15,"fb":0.1},{"t":0.39,"eb":-0.15,"fb":-0.1},{"t":0.3925,"eb":0.15,"fb":0.1},{"t":0.395,"eb":-0.15,"fb":-0.1},{"t":0.3975,"eb":0.15,"fb":0.1},{"t":0.4,"eb":-0.15,"fb":-0.1},
{"t":0.19625,"eg":-0.02,"fg":0.02},{"t":0.19875,"eg":0.04,"fg":-0.03},{"t":0.20125,"eg":-0.1,"fg":0.08},{"t":0.20375,"eg":0.08,"fg":-0.06},{"t":0.20625,"eg":-0.22,"fg":0.12},{"t":0.20875,"eg":0.12,"fg":-0.05},{"t":0.21125,"eg":-0.15,"fg":0.05},{"t":0.21375,"eg":0.15,"fg":-0.04},{"t":0.21625,"eg":-0.15,"fg":0.06},{"t":0.21875,"eg":0.15,"fg":-0.09},{"t":0.22125,"eg":-0.15,"fg":0.12},{"t":0.22375,"eg":0.15,"fg":-0.1},
{"t":0.22625,"eg":-0.15,"fg":0.1},{"t":0.22875,"eg":0.15,"fg":-0.1},{"t":0.23125,"eg":-0.15,"fg":0.1},{"t":0.23375,"eg":0.15,"fg":-0.1},{"t":0.23625,"eg":-0.15,"fg":0.1},{"t":0.23875,"eg":0.15,"fg":-0.1},{"t":0.24125,"eg":-0.15,"fg":0.1},{"t":0.24375,"eg":0.15,"fg":-0.1},{"t":0.24625,"eg":-0.15,"fg":0.1},{"t":0.24875,"eg":0.15,"fg":-0.1},{"t":0.25125,"eg":-0.15,"fg":0.1},{"t":0.25375,"eg":0.15,"fg":-0.1},{"t":0.25625,"eg":-0.15,"fg":0.1},{"t":0.25875,"eg":0.15,"fg":-0.1},{"t":0.26125,"eg":-0.15,"fg":0.1},{"t":0.26375,"eg":0.15,"fg":-0.1},{"t":0.26625,"eg":-0.15,"fg":0.1},{"t":0.26875,"eg":0.15,"fg":-0.1},{"t":0.27125,"eg":-0.15,"fg":0.1},{"t":0.27375,"eg":0.15,"fg":-0.1},{"t":0.27625,"eg":-0.15,"fg":0.1},{"t":0.27875,"eg":0.15,"fg":-0.1},{"t":0.28125,"eg":-0.15,"fg":0.1},{"t":0.28375,"eg":0.15,"fg":-0.1},{"t":0.28625,"eg":-0.15,"fg":0.1},{"t":0.28875,"eg":0.15,"fg":-0.1},{"t":0.29125,"eg":-0.15,"fg":0.1},{"t":0.29375,"eg":0.15,"fg":-0.1},{"t":0.29625,"eg":-0.15,"fg":0.1},{"t":0.29875,"eg":0.15,"fg":-0.1},{"t":0.30125,"eg":-0.15,"fg":0.1},{"t":0.30375,"eg":0.15,"fg":-0.1},{"t":0.30625,"eg":-0.15,"fg":0.1},{"t":0.30875,"eg":0.15,"fg":-0.1},{"t":0.31125,"eg":-0.15,"fg":0.1},{"t":0.31375,"eg":0.15,"fg":-0.1},{"t":0.31625,"eg":-0.15,"fg":0.1},{"t":0.31875,"eg":0.15,"fg":-0.1},{"t":0.32125,"eg":-0.15,"fg":0.1},{"t":0.32375,"eg":0.15,"fg":-0.1},{"t":0.32625,"eg":-0.15,"fg":0.1},{"t":0.32875,"eg":0.15,"fg":-0.1},{"t":0.33125,"eg":-0.15,"fg":0.1},{"t":0.33375,"eg":0.15,"fg":-0.1},{"t":0.33625,"eg":-0.15,"fg":0.1},{"t":0.33875,"eg":0.15,"fg":-0.1},{"t":0.34125,"eg":-0.15,"fg":0.1},{"t":0.34375,"eg":0.15,"fg":-0.1},{"t":0.34625,"eg":-0.15,"fg":0.1},{"t":0.34875,"eg":0.15,"fg":-0.1},{"t":0.35125,"eg":-0.15,"fg":0.1},{"t":0.35375,"eg":0.15,"fg":-0.1},{"t":0.35625,"eg":-0.15,"fg":0.1},{"t":0.35875,"eg":0.15,"fg":-0.1},{"t":0.36125,"eg":-0.15,"fg":0.1},{"t":0.36375,"eg":0.15,"fg":-0.1},{"t":0.36625,"eg":-0.15,"fg":0.1},{"t":0.36875,"eg":0.15,"fg":-0.1},{"t":0.37125,"eg":-0.15,"fg":0.1},{"t":0.37375,"eg":0.15,"fg":-0.1},{"t":0.37625,"eg":-0.15,"fg":0.1},{"t":0.37875,"eg":0.15,"fg":-0.1},{"t":0.38125,"eg":-0.15,"fg":0.1},{"t":0.38375,"eg":0.15,"fg":-0.1},{"t":0.38625,"eg":-0.15,"fg":0.1},{"t":0.38875,"eg":0.15,"fg":-0.1},{"t":0.39125,"eg":-0.15,"fg":0.1},{"t":0.39375,"eg":0.15,"fg":-0.1},{"t":0.39625,"eg":-0.15,"fg":0.1},{"t":0.39875,"eg":0.15,"fg":-0.1},{"t":0.40125,"eg":-0.15,"fg":0.1}
],
"gh":[
{"t":0,"gb":0.15,"gg":-0.15,"hb":-0.03,"hg":-0.2},{"t":0.0008,"gb":-0.15,"gg":0.15,"hb":0.02,"hg":0.02},{"t":0.0015,"gb":0.05,"gg":-0.02,"hb":0.05,"hg":0.07},{"t":0.002,"gb":0.09,"gg":-0.06,"hb":0.08,"hg":-0.03},{"t":0.003,"gb":-0.08,"gg":0.08,"hb":0.1,"hg":-0.12},{"t":0.0045,"gb":-0.1,"gg":-0.06,"hb":0.13,"hg":0.05},{"t":0.006,"gb":0.06,"gg":0.05,"hb":-0.07,"hg":-0.08},{"t":0.0075,"gb":-0.06,"gg":-0.04,"hb":0.08,"hg":0.02},{"t":0.009,"gb":0.04,"gg":0.03,"hb":-0.05,"hg":-0.05},{"t":0.011,"gb":-0.03,"gg":-0.01,"hb":0.03,"hg":-0.03},{"t":0.0135,"gb":0.01,"gg":0.02,"hb":-0.03,"hg":0.01},{"t":0.016,"gb":-0.02,"gg":0.03,"hb":0,"hg":-0.01},{"t":0.019,"gb":0.03,"gg":0.01,"hb":0.02,"hg":-0.02},{"t":0.022,"gb":0.01,"gg":-0.02,"hb":0.03,"hg":0.01},{"t":0.025,"gb":-0.02,"gg":-0.01,"hb":0.02,"hg":0.02},{"t":0.028,"gb":-0.01,"gg":0.02,"hb":0,"hg":0.01},{"t":0.031,"gb":0.02,"gg":0.01,"hb":-0.01,"hg":0},{"t":0.035,"gb":0.01,"gg":-0.01,"hb":-0.01,"hg":0},{"t":0.04,"gb":-0.01,"gg":0,"hb":0.01,"hg":0},{"t":0.045,"gb":0,"gg":0.005,"hb":0,"hg":0},{"t":0.052,"gb":0,"gg":0,"hb":0,"hg":0},{"t":0.195,"gb":0,"gg":0,"hb":0,"hg":0},
{"t":0.1968,"gb":0.02,"hb":0.01},{"t":0.1986,"gb":-0.03,"hb":-0.02},{"t":0.2004,"gb":0.04,"hb":0.04},{"t":0.2022,"gb":-0.05,"hb":-0.08},{"t":0.204,"gb":0.06,"hb":0.1},{"t":0.2058,"gb":-0.04,"hb":-0.13},{"t":0.2076,"gb":0.1,"hb":0.15},{"t":0.2094,"gb":-0.08,"hb":-0.18},{"t":0.2112,"gb":0.11,"hb":0.2},{"t":0.213,"gb":-0.1,"hb":-0.21},{"t":0.2148,"gb":0.11,"hb":0.22},{"t":0.2166,"gb":-0.1,"hb":-0.22},{"t":0.2184,"gb":0.11,"hb":0.23},{"t":0.2202,"gb":-0.1,"hb":-0.22},{"t":0.222,"gb":0.1,"hb":0.22},{"t":0.2238,"gb":-0.1,"hb":-0.21},
{"t":0.2256,"gb":0.1,"hb":0.2},{"t":0.2274,"gb":-0.1,"hb":-0.2},{"t":0.2292,"gb":0.1,"hb":0.2},{"t":0.231,"gb":-0.1,"hb":-0.2},{"t":0.2328,"gb":0.1,"hb":0.2},{"t":0.2346,"gb":-0.1,"hb":-0.2},{"t":0.2364,"gb":0.1,"hb":0.2},{"t":0.2382,"gb":-0.1,"hb":-0.2},{"t":0.24,"gb":0.1,"hb":0.2},{"t":0.2418,"gb":-0.1,"hb":-0.2},{"t":0.2436,"gb":0.1,"hb":0.2},{"t":0.2454,"gb":-0.1,"hb":-0.2},{"t":0.2472,"gb":0.1,"hb":0.2},{"t":0.249,"gb":-0.1,"hb":-0.2},{"t":0.2508,"gb":0.1,"hb":0.2},{"t":0.2526,"gb":-0.1,"hb":-0.2},{"t":0.2544,"gb":0.1,"hb":0.2},{"t":0.2562,"gb":-0.1,"hb":-0.2},{"t":0.258,"gb":0.1,"hb":0.2},{"t":0.2598,"gb":-0.1,"hb":-0.2},{"t":0.2616,"gb":0.1,"hb":0.2},{"t":0.2634,"gb":-0.1,"hb":-0.2},{"t":0.2652,"gb":0.1,"hb":0.2},{"t":0.267,"gb":-0.1,"hb":-0.2},{"t":0.2688,"gb":0.1,"hb":0.2},{"t":0.2706,"gb":-0.1,"hb":-0.2},{"t":0.2724,"gb":0.1,"hb":0.2},{"t":0.2742,"gb":-0.1,"hb":-0.2},{"t":0.276,"gb":0.1,"hb":0.2},{"t":0.2778,"gb":-0.1,"hb":-0.2},{"t":0.2796,"gb":0.1,"hb":0.2},{"t":0.2814,"gb":-0.1,"hb":-0.2},{"t":0.2832,"gb":0.1,"hb":0.2},{"t":0.285,"gb":-0.1,"hb":-0.2},{"t":0.2868,"gb":0.1,"hb":0.2},{"t":0.2886,"gb":-0.1,"hb":-0.2},{"t":0.2904,"gb":0.1,"hb":0.2},{"t":0.2922,"gb":-0.1,"hb":-0.2},{"t":0.294,"gb":0.1,"hb":0.2},{"t":0.2958,"gb":-0.1,"hb":-0.2},{"t":0.2976,"gb":0.1,"hb":0.2},{"t":0.2994,"gb":-0.1,"hb":-0.2},{"t":0.3012,"gb":0.1,"hb":0.2},{"t":0.303,"gb":-0.1,"hb":-0.2},{"t":0.3048,"gb":0.1,"hb":0.2},{"t":0.3066,"gb":-0.1,"hb":-0.2},{"t":0.3084,"gb":0.1,"hb":0.2},{"t":0.3102,"gb":-0.1,"hb":-0.2},{"t":0.312,"gb":0.1,"hb":0.2},{"t":0.3138,"gb":-0.1,"hb":-0.2},{"t":0.3156,"gb":0.1,"hb":0.2},{"t":0.3174,"gb":-0.1,"hb":-0.2},{"t":0.3192,"gb":0.1,"hb":0.2},{"t":0.321,"gb":-0.1,"hb":-0.2},{"t":0.3228,"gb":0.1,"hb":0.2},{"t":0.3246,"gb":-0.1,"hb":-0.2},{"t":0.3264,"gb":0.1,"hb":0.2},{"t":0.3282,"gb":-0.1,"hb":-0.2},{"t":0.33,"gb":0.1,"hb":0.2},{"t":0.3318,"gb":-0.1,"hb":-0.2},{"t":0.3336,"gb":0.1,"hb":0.2},{"t":0.3354,"gb":-0.1,"hb":-0.2},{"t":0.3372,"gb":0.1,"hb":0.2},{"t":0.339,"gb":-0.1,"hb":-0.2},{"t":0.3408,"gb":0.1,"hb":0.2},{"t":0.3426,"gb":-0.1,"hb":-0.2},{"t":0.3444,"gb":0.1,"hb":0.2},{"t":0.3462,"gb":-0.1,"hb":-0.2},{"t":0.348,"gb":0.1,"hb":0.2},{"t":0.3498,"gb":-0.1,"hb":-0.2},{"t":0.3516,"gb":0.1,"hb":0.2},{"t":0.3534,"gb":-0.1,"hb":-0.2},{"t":0.3552,"gb":0.1,"hb":0.2},{"t":0.357,"gb":-0.1,"hb":-0.2},{"t":0.3588,"gb":0.1,"hb":0.2},{"t":0.3606,"gb":-0.1,"hb":-0.2},{"t":0.3624,"gb":0.1,"hb":0.2},{"t":0.3642,"gb":-0.1,"hb":-0.2},{"t":0.366,"gb":0.1,"hb":0.2},{"t":0.3678,"gb":-0.1,"hb":-0.2},{"t":0.3696,"gb":0.1,"hb":0.2},{"t":0.3714,"gb":-0.1,"hb":-0.2},{"t":0.3732,"gb":0.1,"hb":0.2},{"t":0.375,"gb":-0.1,"hb":-0.2},{"t":0.3768,"gb":0.1,"hb":0.2},{"t":0.3786,"gb":-0.1,"hb":-0.2},{"t":0.3804,"gb":0.1,"hb":0.2},{"t":0.3822,"gb":-0.1,"hb":-0.2},{"t":0.384,"gb":0.1,"hb":0.2},{"t":0.3858,"gb":-0.1,"hb":-0.2},{"t":0.3876,"gb":0.1,"hb":0.2},{"t":0.3894,"gb":-0.1,"hb":-0.2},{"t":0.3912,"gb":0.1,"hb":0.2},{"t":0.393,"gb":-0.1,"hb":-0.2},{"t":0.3948,"gb":0.1,"hb":0.2},{"t":0.3966,"gb":-0.1,"hb":-0.2},{"t":0.3984,"gb":0.1,"hb":0.2},{"t":0.4002,"gb":-0.1,"hb":-0.2},
{"t":0.1959,"gg":0,"hg":0.02},{"t":0.1977,"gg":0.02,"hg":-0.03},{"t":0.1995,"gg":-0.03,"hg":0.04},{"t":0.2013,"gg":0.03,"hg":-0.06},{"t":0.2031,"gg":-0.12,"hg":0.08},{"t":0.2049,"gg":0.04,"hg":-0.11},{"t":0.2067,"gg":-0.08,"hg":0.14},{"t":0.2085,"gg":0.07,"hg":-0.16},{"t":0.2103,"gg":-0.1,"hg":0.19},{"t":0.2121,"gg":0.11,"hg":-0.2},{"t":0.2139,"gg":-0.1,"hg":0.22},{"t":0.2157,"gg":0.1,"hg":-0.23},{"t":0.2175,"gg":-0.1,"hg":0.23},{"t":0.2193,"gg":0.1,"hg":-0.22},{"t":0.2211,"gg":-0.1,"hg":0.21},
{"t":0.2229,"gg":0.1,"hg":-0.2},{"t":0.2247,"gg":-0.1,"hg":0.2},{"t":0.2265,"gg":0.1,"hg":-0.2},{"t":0.2283,"gg":-0.1,"hg":0.2},{"t":0.2301,"gg":0.1,"hg":-0.2},{"t":0.2319,"gg":-0.1,"hg":0.2},{"t":0.2337,"gg":0.1,"hg":-0.2},{"t":0.2355,"gg":-0.1,"hg":0.2},{"t":0.2373,"gg":0.1,"hg":-0.2},{"t":0.2391,"gg":-0.1,"hg":0.2},{"t":0.2409,"gg":0.1,"hg":-0.2},{"t":0.2427,"gg":-0.1,"hg":0.2},{"t":0.2445,"gg":0.1,"hg":-0.2},{"t":0.2463,"gg":-0.1,"hg":0.2},{"t":0.2481,"gg":0.1,"hg":-0.2},{"t":0.2499,"gg":-0.1,"hg":0.2},{"t":0.2517,"gg":0.1,"hg":-0.2},{"t":0.2535,"gg":-0.1,"hg":0.2},{"t":0.2553,"gg":0.1,"hg":-0.2},{"t":0.2571,"gg":-0.1,"hg":0.2},{"t":0.2589,"gg":0.1,"hg":-0.2},{"t":0.2607,"gg":-0.1,"hg":0.2},{"t":0.2625,"gg":0.1,"hg":-0.2},{"t":0.2643,"gg":-0.1,"hg":0.2},{"t":0.2661,"gg":0.1,"hg":-0.2},{"t":0.2679,"gg":-0.1,"hg":0.2},{"t":0.2697,"gg":0.1,"hg":-0.2},{"t":0.2715,"gg":-0.1,"hg":0.2},{"t":0.2733,"gg":0.1,"hg":-0.2},{"t":0.2751,"gg":-0.1,"hg":0.2},{"t":0.2769,"gg":0.1,"hg":-0.2},{"t":0.2787,"gg":-0.1,"hg":0.2},{"t":0.2805,"gg":0.1,"hg":-0.2},{"t":0.2823,"gg":-0.1,"hg":0.2},{"t":0.2841,"gg":0.1,"hg":-0.2},{"t":0.2859,"gg":-0.1,"hg":0.2},{"t":0.2877,"gg":0.1,"hg":-0.2},{"t":0.2895,"gg":-0.1,"hg":0.2},{"t":0.2913,"gg":0.1,"hg":-0.2},{"t":0.2931,"gg":-0.1,"hg":0.2},{"t":0.2949,"gg":0.1,"hg":-0.2},{"t":0.2967,"gg":-0.1,"hg":0.2},{"t":0.2985,"gg":0.1,"hg":-0.2},{"t":0.3003,"gg":-0.1,"hg":0.2},{"t":0.3021,"gg":0.1,"hg":-0.2},{"t":0.3039,"gg":-0.1,"hg":0.2},{"t":0.3057,"gg":0.1,"hg":-0.2},{"t":0.3075,"gg":-0.1,"hg":0.2},{"t":0.3093,"gg":0.1,"hg":-0.2},{"t":0.3111,"gg":-0.1,"hg":0.2},{"t":0.3129,"gg":0.1,"hg":-0.2},{"t":0.3147,"gg":-0.1,"hg":0.2},{"t":0.3165,"gg":0.1,"hg":-0.2},{"t":0.3183,"gg":-0.1,"hg":0.2},{"t":0.3201,"gg":0.1,"hg":-0.2},{"t":0.3219,"gg":-0.1,"hg":0.2},{"t":0.3237,"gg":0.1,"hg":-0.2},{"t":0.3255,"gg":-0.1,"hg":0.2},{"t":0.3273,"gg":0.1,"hg":-0.2},{"t":0.3291,"gg":-0.1,"hg":0.2},{"t":0.3309,"gg":0.1,"hg":-0.2},{"t":0.3327,"gg":-0.1,"hg":0.2},{"t":0.3345,"gg":0.1,"hg":-0.2},{"t":0.3363,"gg":-0.1,"hg":0.2},{"t":0.3381,"gg":0.1,"hg":-0.2},{"t":0.3399,"gg":-0.1,"hg":0.2},{"t":0.3417,"gg":0.1,"hg":-0.2},{"t":0.3435,"gg":-0.1,"hg":0.2},{"t":0.3453,"gg":0.1,"hg":-0.2},{"t":0.3471,"gg":-0.1,"hg":0.2},{"t":0.3489,"gg":0.1,"hg":-0.2},{"t":0.3507,"gg":-0.1,"hg":0.2},{"t":0.3525,"gg":0.1,"hg":-0.2},{"t":0.3543,"gg":-0.1,"hg":0.2},{"t":0.3561,"gg":0.1,"hg":-0.2},{"t":0.3579,"gg":-0.1,"hg":0.2},{"t":0.3597,"gg":0.1,"hg":-0.2},{"t":0.3615,"gg":-0.1,"hg":0.2},{"t":0.3633,"gg":0.1,"hg":-0.2},{"t":0.3651,"gg":-0.1,"hg":0.2},{"t":0.3669,"gg":0.1,"hg":-0.2},{"t":0.3687,"gg":-0.1,"hg":0.2},{"t":0.3705,"gg":0.1,"hg":-0.2},{"t":0.3723,"gg":-0.1,"hg":0.2},{"t":0.3741,"gg":0.1,"hg":-0.2},{"t":0.3759,"gg":-0.1,"hg":0.2},{"t":0.3777,"gg":0.1,"hg":-0.2},{"t":0.3795,"gg":-0.1,"hg":0.2},{"t":0.3813,"gg":0.1,"hg":-0.2},{"t":0.3831,"gg":-0.1,"hg":0.2},{"t":0.3849,"gg":0.1,"hg":-0.2},{"t":0.3867,"gg":-0.1,"hg":0.2},{"t":0.3885,"gg":0.1,"hg":-0.2},{"t":0.3903,"gg":-0.1,"hg":0.2},{"t":0.3921,"gg":0.1,"hg":-0.2},{"t":0.3939,"gg":-0.1,"hg":0.2},{"t":0.3957,"gg":0.1,"hg":-0.2},{"t":0.3975,"gg":-0.1,"hg":0.2},{"t":0.3993,"gg":0.1,"hg":-0.2},{"t":0.4011,"gg":-0.1,"hg":0.2}
],
"ij":[
{"t":0.3503,"ib":0.13,"ig":-0.075,"jb":-0.05,"jg":0.087},{"t":0.3507,"ib":0.15,"ig":0,"jb":0,"jg":0.1},{"t":0.3511,"ib":0.13,"ig":0.075,"jb":0.05,"jg":0.087},{"t":0.3515,"ib":0.075,"ig":0.13,"jb":0.087,"jg":0.05},{"t":0.3519,"ib":0,"ig":0.15,"jb":0.1,"jg":0},{"t":0.3523,"ib":-0.075,"ig":0.13,"jb":0.087,"jg":-0.05},{"t":0.3527,"ib":-0.13,"ig":0.075,"jb":0.05,"jg":-0.087},{"t":0.3531,"ib":-0.15,"ig":0,"jb":0,"jg":-0.1},{"t":0.3535,"ib":-0.13,"ig":-0.075,"jb":-0.05,"jg":-0.087},{"t":0.3539,"ib":-0.075,"ig":-0.13,"jb":-0.087,"jg":-0.05},{"t":0.3543,"ib":0,"ig":-0.15,"jb":-0.1,"jg":0},{"t":0.3547,"ib":0.075,"ig":-0.13,"jb":-0.087,"jg":0.05},{"t":0.3551,"ib":0.13,"ig":-0.075,"jb":-0.05,"jg":0.087},{"t":0.3555,"ib":0.15,"ig":0,"jb":0,"jg":0.1},{"t":0.3559,"ib":0.13,"ig":0.075,"jb":0.05,"jg":0.087},{"t":0.3563,"ib":0.075,"ig":0.13,"jb":0.087,"jg":0.05},{"t":0.3567,"ib":0,"ig":0.15,"jb":0.1,"jg":0},{"t":0.3571,"ib":-0.075,"ig":0.13,"jb":0.087,"jg":-0.05},{"t":0.3575,"ib":-0.13,"ig":0.075,"jb":0.05,"jg":-0.087},{"t":0.3579,"ib":-0.15,"ig":0,"jb":0,"jg":-0.1},{"t":0.3583,"ib":-0.13,"ig":-0.075,"jb":-0.05,"jg":-0.087},{"t":0.3587,"ib":-0.075,"ig":-0.13,"jb":-0.087,"jg":-0.05},{"t":0.3591,"ib":0,"ig":-0.15,"jb":-0.1,"jg":0},{"t":0.3595,"ib":0.075,"ig":-0.13,"jb":-0.087,"jg":0.05},{"t":0.3599,"ib":0.13,"ig":-0.075,"jb":-0.05,"jg":0.087},{"t":0.3603,"ib":0.15,"ig":0,"jb":0,"jg":0.1}
],
"k":[
{"t":0.35015,"b":-0.087,"g":-0.05},{"t":0.35044,"b":-0.05,"g":-0.087},{"t":0.35073,"b":0,"g":-0.1},{"t":0.35102,"b":0.05,"g":-0.087},{"t":0.35131,"b":0.087,"g":-0.05},{"t":0.3516,"b":0.1,"g":0},{"t":0.35189,"b":0.087,"g":0.05},{"t":0.35218,"b":0.05,"g":0.087},{"t":0.35247,"b":0,"g":0.1},{"t":0.35276,"b":-0.05,"g":0.087},{"t":0.35305,"b":-0.087,"g":0.05},{"t":0.35334,"b":-0.1,"g":0},{"t":0.35363,"b":-0.087,"g":-0.05},{"t":0.35392,"b":-0.05,"g":-0.087},{"t":0.35421,"b":0,"g":-0.1},{"t":0.3545,"b":0.05,"g":-0.087},{"t":0.35479,"b":0.087,"g":-0.05},{"t":0.35508,"b":0.1,"g":0},{"t":0.35537,"b":0.087,"g":0.05},{"t":0.35566,"b":0.05,"g":0.087},{"t":0.35595,"b":0,"g":0.1},{"t":0.35624,"b":-0.05,"g":0.087},{"t":0.35653,"b":-0.087,"g":0.05},{"t":0.35682,"b":-0.1,"g":0},{"t":0.35711,"b":-0.087,"g":-0.05},{"t":0.3574,"b":-0.05,"g":-0.087},{"t":0.35769,"b":0,"g":-0.1},{"t":0.35798,"b":0.05,"g":-0.087},{"t":0.35827,"b":0.087,"g":-0.05},{"t":0.35856,"b":0.1,"g":0},{"t":0.35885,"b":0.087,"g":0.05},{"t":0.35914,"b":0.05,"g":0.087},{"t":0.35943,"b":0,"g":0.1},{"t":0.35972,"b":-0.05,"g":0.087},{"t":0.36001,"b":-0.087,"g":0.05}
],
"l":[
{"t":0.35003,"b":-0.2,"g":0},{"t":0.35032,"b":-0.17,"g":0.1},{"t":0.35061,"b":-0.1,"g":0.17},{"t":0.3509,"b":0,"g":0.2},{"t":0.35119,"b":0.1,"g":0.17},{"t":0.35148,"b":0.17,"g":0.1},{"t":0.35177,"b":0.2,"g":0},{"t":0.35206,"b":0.17,"g":-0.1},{"t":0.35235,"b":0.1,"g":-0.17},{"t":0.35264,"b":0,"g":-0.2},{"t":0.35293,"b":-0.1,"g":-0.17},{"t":0.35322,"b":-0.17,"g":-0.1},{"t":0.35351,"b":-0.2,"g":0},{"t":0.3538,"b":-0.17,"g":0.1},{"t":0.35409,"b":-0.1,"g":0.17},{"t":0.35438,"b":0,"g":0.2},{"t":0.35467,"b":0.1,"g":0.17},{"t":0.35496,"b":0.17,"g":0.1},{"t":0.35525,"b":0.2,"g":0},{"t":0.35554,"b":0.17,"g":-0.1},{"t":0.35583,"b":0.1,"g":-0.17},{"t":0.35612,"b":0,"g":-0.2},{"t":0.35641,"b":-0.1,"g":-0.17},{"t":0.3567,"b":-0.17,"g":-0.1},{"t":0.35699,"b":-0.2,"g":0},{"t":0.35728,"b":-0.17,"g":0.1},{"t":0.35757,"b":-0.1,"g":0.17},{"t":0.35786,"b":0,"g":0.2},{"t":0.35815,"b":0.1,"g":0.17},{"t":0.35844,"b":0.17,"g":0.1},{"t":0.35873,"b":0.2,"g":0},{"t":0.35902,"b":0.17,"g":-0.1},{"t":0.35931,"b":0.1,"g":-0.17},{"t":0.3596,"b":0,"g":-0.2},{"t":0.35989,"b":-0.1,"g":-0.17},{"t":0.36018,"b":-0.17,"g":-0.1}
]
},
"vconcat":[
{"vconcat":[
{"width":724,"height":90,"data":{"name":"a"},"resolve":{"axis":{"y":"independent"}},
"encoding":{"x":{"field":"t","type":"quantitative","scale":{"domain":[0,0.4],"nice":false},"axis":{"values":[0,0.05,0.1,0.15,0.2,0.25,0.3,0.35,0.4],"title":null,"labelPadding":2,"labelOverlap":false,"labelExpr":"format(datum.value,'~g')"}}},
"layer":[
{"mark":{"type":"line","color":"#0000ff","interpolate":"monotone"},"encoding":{"y":{"field":"b","type":"quantitative","scale":{"domain":[-1,1],"nice":false},"axis":{"values":[-1,0,1],"title":"Vabc [pu]","titleX":-44,"labelOverlap":false,"labelExpr":"replace(format(datum.value,'~g'),'−','-')"}}}},
{"mark":{"type":"line","color":"#008000","interpolate":"monotone"},"encoding":{"y":{"field":"g","type":"quantitative","axis":{"orient":"right","title":"(a)","labels":false,"ticks":false,"grid":false,"domain":false,"titleAngle":0,"titleX":11,"titleY":50,"titleAlign":"left","titleBaseline":"middle","titleFontSize":19}}}},
{"mark":{"type":"line","color":"#ff0000","interpolate":"monotone"},"encoding":{"y":{"field":"r","type":"quantitative","axis":null}}}
]},
{"hconcat":[
{"width":1,"height":1,"data":{"values":[]},"mark":"point","view":{"stroke":null}},
{"width":712,"height":79,"data":{"name":"w"},"resolve":{"axis":{"y":"independent"}},
"encoding":{"x":{"field":"t","type":"quantitative","scale":{"domain":[0,0.4],"nice":false},"axis":{"values":[0,0.05,0.1,0.15,0.2,0.25,0.3,0.35,0.4],"title":null,"labelOverlap":false,"labelExpr":"format(datum.value,'~g')"}}},
"layer":[
{"mark":{"type":"line","color":"#0000ff"},"encoding":{"y":{"field":"w","type":"quantitative","scale":{"domain":[250,350],"nice":false,"zero":false},"axis":{"values":[250,300,350],"title":"ω'[rad/s]","titleX":-52,"labelOverlap":false,"labelExpr":"format(datum.value,'~g')"}}}},
{"mark":{"type":"line","color":"#0000ff","opacity":0},"encoding":{"y":{"field":"w","type":"quantitative","axis":{"orient":"right","title":"(b)","labels":false,"ticks":false,"grid":false,"domain":false,"titleAngle":0,"titleX":8,"titleY":43,"titleAlign":"left","titleBaseline":"middle","titleFontSize":19}}}}
]}
],"spacing":11,"bounds":"flush"}
],"spacing":42,"bounds":"flush"},
{"hconcat":[
{"width":1,"height":1,"data":{"values":[]},"mark":"point","view":{"stroke":null}},
{"hconcat":[
{"vconcat":[
{"width":411,"height":49,"data":{"name":"c"},"resolve":{"axis":{"y":"independent"}},
"encoding":{"x":{"field":"t","type":"quantitative","scale":{"domain":[0,0.4],"nice":false},"axis":{"values":[0,0.1,0.2,0.3,0.4],"title":null,"labelOverlap":false,"labelExpr":"format(datum.value,'~g')"}}},
"layer":[
{"mark":{"type":"line","color":"#0000ff","interpolate":"monotone"},"encoding":{"y":{"field":"b","type":"quantitative","scale":{"domain":[-1,1],"nice":false},"axis":{"values":[-1,0,1],"title":"χ⁺g1(αβ) [pu]","titleX":-50,"titleY":33,"titleFontSize":15,"labelOverlap":false,"labelExpr":"replace(format(datum.value,'~g'),'−','-')"}}}},
{"mark":{"type":"line","color":"#008000","interpolate":"monotone"},"encoding":{"y":{"field":"g","type":"quantitative","axis":{"orient":"right","title":"(c)","labels":false,"ticks":false,"grid":false,"domain":false,"titleAngle":0,"titleX":4,"titleY":33,"titleAlign":"left","titleBaseline":"middle","titleFontSize":19}}}}
]},
{"width":411,"height":51,"data":{"name":"d"},"resolve":{"axis":{"y":"independent"}},
"encoding":{"x":{"field":"t","type":"quantitative","scale":{"domain":[0,0.4],"nice":false},"axis":{"values":[0,0.1,0.2,0.3,0.4],"title":null,"labelOverlap":false,"labelExpr":"format(datum.value,'~g')"}}},
"layer":[
{"mark":{"type":"line","color":"#0000ff","interpolate":"monotone"},"encoding":{"y":{"field":"b","type":"quantitative","scale":{"domain":[-0.31,0.28],"nice":false},"axis":{"values":[-0.2,0,0.2],"title":"χ⁻g1(αβ) [pu]","titleX":-50,"titleY":34,"titleFontSize":15,"labelOverlap":false,"labelExpr":"replace(format(datum.value,'~g'),'−','-')"}}}},
{"mark":{"type":"line","color":"#008000","interpolate":"monotone"},"encoding":{"y":{"field":"g","type":"quantitative","axis":{"orient":"right","title":"(d)","labels":false,"ticks":false,"grid":false,"domain":false,"titleAngle":0,"titleX":4,"titleY":33,"titleAlign":"left","titleBaseline":"middle","titleFontSize":19}}}}
]},
{"width":411,"height":51,"data":{"name":"ef"},"resolve":{"axis":{"y":"independent"}},
"encoding":{"x":{"field":"t","type":"quantitative","scale":{"domain":[0,0.4],"nice":false},"axis":{"values":[0,0.1,0.2,0.3,0.4],"title":null,"labelOverlap":false,"labelExpr":"format(datum.value,'~g')"}}},
"layer":[
{"mark":{"type":"line","color":"#0000ff"},"encoding":{"y":{"field":"eb","type":"quantitative","scale":{"domain":[-0.2,0.2],"nice":false},"axis":{"values":[-0.2,0,0.2],"title":"χ⁺g5(αβ) [pu]","titleX":-50,"titleY":34,"titleFontSize":15,"labelOverlap":false,"labelExpr":"replace(format(datum.value,'~g'),'−','-')"}}}},
{"mark":{"type":"line","color":"#008000"},"encoding":{"y":{"field":"eg","type":"quantitative","axis":{"orient":"right","title":"(e)","labels":false,"ticks":false,"grid":false,"domain":false,"titleAngle":0,"titleX":4,"titleY":31,"titleAlign":"left","titleBaseline":"middle","titleFontSize":19}}}}
]},
{"width":411,"height":52,"data":{"name":"ef"},"resolve":{"axis":{"y":"independent"}},
"encoding":{"x":{"field":"t","type":"quantitative","scale":{"domain":[0,0.4],"nice":false},"axis":{"values":[0,0.1,0.2,0.3,0.4],"title":null,"labelOverlap":false,"labelExpr":"format(datum.value,'~g')"}}},
"layer":[
{"mark":{"type":"line","color":"#0000ff"},"encoding":{"y":{"field":"fb","type":"quantitative","scale":{"domain":[-0.152,0.137],"nice":false},"axis":{"values":[-0.1,0,0.1],"title":"χ⁻g5(αβ) [pu]","titleX":-50,"titleY":34,"titleFontSize":15,"labelOverlap":false,"labelExpr":"replace(format(datum.value,'~g'),'−','-')"}}}},
{"mark":{"type":"line","color":"#008000"},"encoding":{"y":{"field":"fg","type":"quantitative","axis":{"orient":"right","title":"(f)","labels":false,"ticks":false,"grid":false,"domain":false,"titleAngle":0,"titleX":4,"titleY":31,"titleAlign":"left","titleBaseline":"middle","titleFontSize":19}}}}
]},
{"width":411,"height":52,"data":{"name":"gh"},"resolve":{"axis":{"y":"independent"}},
"encoding":{"x":{"field":"t","type":"quantitative","scale":{"domain":[0,0.4],"nice":false},"axis":{"values":[0,0.1,0.2,0.3,0.4],"title":null,"labelOverlap":false,"labelExpr":"format(datum.value,'~g')"}}},
"layer":[
{"mark":{"type":"line","color":"#0000ff"},"encoding":{"y":{"field":"gb","type":"quantitative","scale":{"domain":[-0.14,0.142],"nice":false},"axis":{"values":[-0.1,0,0.1],"title":"χ⁺g7(αβ) [pu]","titleX":-50,"titleY":34,"titleFontSize":15,"labelOverlap":false,"labelExpr":"replace(format(datum.value,'~g'),'−','-')"}}}},
{"mark":{"type":"line","color":"#008000"},"encoding":{"y":{"field":"gg","type":"quantitative","axis":{"orient":"right","title":"(g)","labels":false,"ticks":false,"grid":false,"domain":false,"titleAngle":0,"titleX":4,"titleY":30,"titleAlign":"left","titleBaseline":"middle","titleFontSize":19}}}}
]},
{"width":411,"height":52,"data":{"name":"gh"},"resolve":{"axis":{"y":"independent"}},
"encoding":{"x":{"field":"t","type":"quantitative","scale":{"domain":[0,0.4],"nice":false},"axis":{"values":[0,0.1,0.2,0.3,0.4],"title":null,"labelOverlap":false,"labelExpr":"format(datum.value,'~g')"}}},
"layer":[
{"mark":{"type":"line","color":"#0000ff"},"encoding":{"y":{"field":"hb","type":"quantitative","scale":{"domain":[-0.294,0.23],"nice":false},"axis":{"values":[-0.2,0,0.2],"title":"χ⁻g7(αβ) [pu]","titleX":-50,"titleY":34,"titleFontSize":15,"labelOverlap":false,"labelExpr":"replace(format(datum.value,'~g'),'−','-')"}}}},
{"mark":{"type":"line","color":"#008000"},"encoding":{"y":{"field":"hg","type":"quantitative","axis":{"orient":"right","title":"(h)","labels":false,"ticks":false,"grid":false,"domain":false,"titleAngle":0,"titleX":4,"titleY":28,"titleAlign":"left","titleBaseline":"middle","titleFontSize":19}}}}
]}
],"spacing":34,"bounds":"flush"},
{"vconcat":[
{"width":1,"height":127,"data":{"values":[]},"mark":"point","view":{"stroke":null}},
{"width":221,"height":51,"data":{"name":"ij"},"resolve":{"axis":{"y":"independent"}},
"encoding":{"x":{"field":"t","type":"quantitative","scale":{"domain":[0.3503,0.36],"nice":false,"zero":false},"axis":{"values":[0.352,0.354,0.356,0.358,0.36],"title":null,"labelOverlap":false,"labelExpr":"indexof(['0.354','0.358'],format(datum.value,'~g'))>=0?'':format(datum.value,'~g')"}}},
"layer":[
{"mark":{"type":"line","color":"#0000ff","interpolate":"monotone"},"encoding":{"y":{"field":"ib","type":"quantitative","scale":{"domain":[-0.2,0.2],"nice":false},"axis":{"values":[-0.2,0,0.2],"title":null,"labelOverlap":false,"labelExpr":"replace(format(datum.value,'~g'),'−','-')"}}}},
{"mark":{"type":"line","color":"#008000","interpolate":"monotone"},"encoding":{"y":{"field":"ig","type":"quantitative","axis":{"orient":"right","title":"(i)","labels":false,"ticks":false,"grid":false,"domain":false,"titleAngle":0,"titleX":9,"titleY":26,"titleAlign":"left","titleBaseline":"middle","titleFontSize":19}}}}
]},
{"width":221,"height":52,"data":{"name":"ij"},"resolve":{"axis":{"y":"independent"}},
"encoding":{"x":{"field":"t","type":"quantitative","scale":{"domain":[0.3503,0.36],"nice":false,"zero":false},"axis":{"values":[0.352,0.354,0.356,0.358,0.36],"title":null,"labelOverlap":false,"labelExpr":"indexof(['0.354','0.358'],format(datum.value,'~g'))>=0?'':format(datum.value,'~g')"}}},
"layer":[
{"mark":{"type":"line","color":"#0000ff","interpolate":"monotone"},"encoding":{"y":{"field":"jb","type":"quantitative","scale":{"domain":[-0.149,0.159],"nice":false},"axis":{"values":[-0.1,0,0.1],"title":null,"labelOverlap":false,"labelExpr":"replace(format(datum.value,'~g'),'−','-')"}}}},
{"mark":{"type":"line","color":"#008000","interpolate":"monotone"},"encoding":{"y":{"field":"jg","type":"quantitative","axis":{"orient":"right","title":"(j)","labels":false,"ticks":false,"grid":false,"domain":false,"titleAngle":0,"titleX":10,"titleY":34,"titleAlign":"left","titleBaseline":"middle","titleFontSize":19}}}}
]},
{"width":221,"height":53,"data":{"name":"k"},"resolve":{"axis":{"y":"independent"}},
"encoding":{"x":{"field":"t","type":"quantitative","scale":{"domain":[0.3503,0.36],"nice":false,"zero":false},"axis":{"values":[0.352,0.354,0.356,0.358,0.36],"title":null,"labelOverlap":false,"labelExpr":"indexof(['0.354','0.358'],format(datum.value,'~g'))>=0?'':format(datum.value,'~g')"}}},
"layer":[
{"mark":{"type":"line","color":"#0000ff","interpolate":"monotone"},"encoding":{"y":{"field":"b","type":"quantitative","scale":{"domain":[-0.17,0.144],"nice":false},"axis":{"values":[-0.1,0,0.1],"title":null,"labelOverlap":false,"labelExpr":"replace(format(datum.value,'~g'),'−','-')"}}}},
{"mark":{"type":"line","color":"#008000","interpolate":"monotone"},"encoding":{"y":{"field":"g","type":"quantitative","axis":{"orient":"right","title":"(k)","labels":false,"ticks":false,"grid":false,"domain":false,"titleAngle":0,"titleX":7,"titleY":29,"titleAlign":"left","titleBaseline":"middle","titleFontSize":19}}}}
]},
{"width":221,"height":51,"data":{"name":"l"},"resolve":{"axis":{"y":"independent"}},
"encoding":{"x":{"field":"t","type":"quantitative","scale":{"domain":[0.3503,0.36],"nice":false,"zero":false},"axis":{"values":[0.352,0.354,0.356,0.358,0.36],"title":null,"labelOverlap":false,"labelExpr":"indexof(['0.354','0.358'],format(datum.value,'~g'))>=0?'':format(datum.value,'~g')"}}},
"layer":[
{"mark":{"type":"line","color":"#0000ff","interpolate":"monotone"},"encoding":{"y":{"field":"b","type":"quantitative","scale":{"domain":[-0.234,0.285],"nice":false},"axis":{"values":[-0.2,0,0.2],"title":null,"labelOverlap":false,"labelExpr":"replace(format(datum.value,'~g'),'−','-')"}}}},
{"mark":{"type":"line","color":"#008000","interpolate":"monotone"},"encoding":{"y":{"field":"g","type":"quantitative","axis":{"orient":"right","title":"(l)","labels":false,"ticks":false,"grid":false,"domain":false,"titleAngle":0,"titleX":10,"titleY":37,"titleAlign":"left","titleBaseline":"middle","titleFontSize":19}}}}
]}
],"spacing":34,"bounds":"flush"}
],"spacing":490,"bounds":"flush"}
],"spacing":8,"bounds":"flush"}
],
"spacing":259,
"bounds":"flush"
}
